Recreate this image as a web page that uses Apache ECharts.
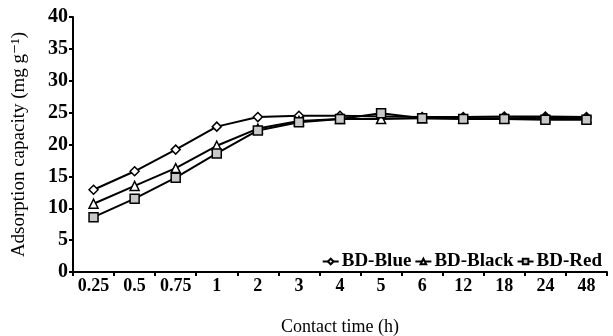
<!DOCTYPE html>
<html><head><meta charset="utf-8">
<script src="https://cdn.jsdelivr.net/npm/echarts@6/dist/echarts.min.js"></script>
<style>html,body{margin:0;padding:0;background:#fff}#c{width:613px;height:336px}</style>
</head><body><div id="c"></div>
<script>
const categories = ['0.25','0.5','0.75','1','2','3','4','5','6','12','18','24','48'];
const blue  = [12.9, 15.8, 19.2, 22.8, 24.3, 24.5, 24.5, 24.4, 24.3, 24.3, 24.4, 24.4, 24.3];
const black = [10.7, 13.5, 16.3, 19.8, 22.5, 23.7, 24.0, 24.0, 24.1, 24.1, 24.1, 24.2, 24.1];
const red   = [8.6, 11.5, 14.8, 18.6, 22.2, 23.5, 24.0, 24.9, 24.1, 24.0, 24.0, 23.9, 23.9];
const yTicks = [0,5,10,15,20,25,30,35,40];

const font = '"Liberation Serif", "DejaVu Serif", serif';
const chart = echarts.init(document.getElementById('c'), null, {renderer:'canvas'});
function ser(name, data, symbol, fill, size){
  return {name, type:'line', data, symbol, symbolSize:size,
    lineStyle:{color:'#000', width:2},
    itemStyle:{color:fill, borderColor:'#000', borderWidth:1.5},
    emphasis:{disabled:true}, animation:false};
}
chart.setOption({
  animation:false,
  grid:{left:73, right:6, top:17, bottom:64, containLabel:false, outerBoundsMode:'none'},
  legend:{right:6, top:247, itemGap:3, itemWidth:16, itemHeight:7,
    textStyle:{fontFamily:font, fontSize:19, fontWeight:'bold', color:'#000', padding:[0,0,0,-2]},
    data:['BD-Blue','BD-Black','BD-Red']},
  xAxis:{type:'category', data:categories, boundaryGap:true,
    name:'Contact time (h)', nameLocation:'middle', nameGap:46,
    nameTextStyle:{fontFamily:font, fontSize:18, color:'#000'},
    axisLine:{lineStyle:{color:'#000', width:2}},
    axisTick:{show:true, length:4, lineStyle:{color:'#000', width:2}},
    axisLabel:{fontFamily:font, fontSize:18, fontWeight:'bold', color:'#000', margin:5, interval:0},
    splitLine:{show:false}},
  yAxis:{type:'value', min:0, max:40, interval:5,
    name:'Adsorption capacity (mg g⁻¹)', nameLocation:'middle', nameGap:44,
    nameTextStyle:{fontFamily:font, fontSize:19, color:'#000'},
    axisLine:{show:true, lineStyle:{color:'#000', width:2}},
    axisTick:{show:true, length:4, lineStyle:{color:'#000', width:2}},
    axisLabel:{fontFamily:font, fontSize:20, fontWeight:'bold', color:'#000', margin:5,
      formatter:v=> yTicks.includes(v)? String(v):''},
    splitLine:{show:false}},
  series:[
    ser('BD-Blue', blue, 'diamond', '#fff', 9),
    ser('BD-Black', black, 'triangle', '#fff', 9),
    ser('BD-Red', red, 'rect', '#c8c8c8', 9)
  ]
});
</script></body></html>
